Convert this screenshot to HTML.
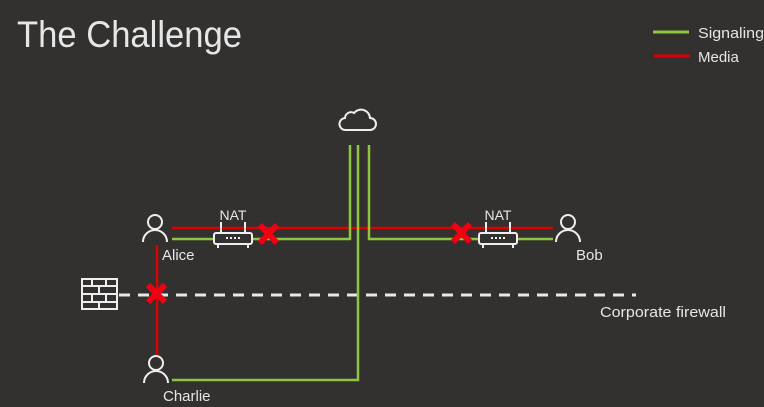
<!DOCTYPE html>
<html><head><style>
html,body{margin:0;padding:0;background:#323130;}
svg{display:block}
text{font-family:"Liberation Sans",sans-serif;fill:#e6e6e6}
</style></head><body>
<svg width="764" height="407" viewBox="0 0 764 407">
<rect width="764" height="407" fill="#323130"/>
<text x="17" y="47" font-size="37" textLength="225" lengthAdjust="spacingAndGlyphs">The Challenge</text>
<line x1="653" y1="32" x2="689" y2="32" stroke="#8dc63f" stroke-width="3"/>
<line x1="654" y1="56" x2="690" y2="56" stroke="#e00000" stroke-width="3"/>
<text x="698" y="38" font-size="15" fill="#ddd" textLength="66" lengthAdjust="spacingAndGlyphs">Signaling</text>
<text x="698" y="62" font-size="15" fill="#ddd">Media</text>
<!-- dashed firewall line -->
<line x1="100" y1="295" x2="636" y2="295" stroke="#e8e8e8" stroke-width="3" stroke-dasharray="11,8"/>
<text x="600" y="317" font-size="15" fill="#ddd" textLength="126" lengthAdjust="spacingAndGlyphs">Corporate firewall</text>
<!-- red lines -->
<line x1="172" y1="228" x2="553" y2="228" stroke="#e00000" stroke-width="2.5"/>
<line x1="157" y1="245" x2="157" y2="355" stroke="#e00000" stroke-width="2.5"/>
<!-- green lines -->
<g fill="none" stroke="#8dc63f" stroke-width="2.5">
<polyline points="172,239 350,239 350,145"/>
<polyline points="358,145 358,380 172,380"/>
<polyline points="369,145 369,239 553,239"/>
</g>
<!-- cloud -->
<path d="M346,130 h24 a6,6 0 0 0 0,-12 a9,9 0 0 0 -16,-5 a6,6 0 0 0 -9,5 a6,6 0 0 0 1,12 z" fill="#323130" stroke="#eee" stroke-width="2"/>
<!-- persons -->
<g fill="none" stroke="#eee" stroke-width="2">
<circle cx="155" cy="222" r="7"/><path d="M143,242 a12,12 0 0 1 24,0"/>
<circle cx="568" cy="222" r="7"/><path d="M556,242 a12,12 0 0 1 24,0"/>
<circle cx="156" cy="363" r="7"/><path d="M144,383 a12,12 0 0 1 24,0"/>
</g>
<text x="162" y="260" font-size="15" fill="#ddd">Alice</text>
<text x="576" y="260" font-size="15" fill="#ddd">Bob</text>
<text x="163" y="401" font-size="15" fill="#ddd">Charlie</text>
<!-- routers -->
<g>
<rect x="214" y="233" width="38" height="11" rx="2" fill="#323130" stroke="#eee" stroke-width="2"/>
<line x1="221" y1="222" x2="221" y2="233" stroke="#eee" stroke-width="2"/>
<line x1="245" y1="222" x2="245" y2="233" stroke="#eee" stroke-width="2"/>
<line x1="218" y1="244" x2="218" y2="248" stroke="#eee" stroke-width="2"/>
<line x1="248" y1="244" x2="248" y2="248" stroke="#eee" stroke-width="2"/>
<g fill="#eee"><rect x="226" y="237" width="2" height="2"/><rect x="230" y="237" width="2" height="2"/><rect x="234" y="237" width="2" height="2"/><rect x="238" y="237" width="2" height="2"/></g>
<text x="233" y="220" font-size="14" text-anchor="middle" fill="#eee">NAT</text>
</g>
<g>
<rect x="479" y="233" width="38" height="11" rx="2" fill="#323130" stroke="#eee" stroke-width="2"/>
<line x1="486" y1="222" x2="486" y2="233" stroke="#eee" stroke-width="2"/>
<line x1="510" y1="222" x2="510" y2="233" stroke="#eee" stroke-width="2"/>
<line x1="483" y1="244" x2="483" y2="248" stroke="#eee" stroke-width="2"/>
<line x1="513" y1="244" x2="513" y2="248" stroke="#eee" stroke-width="2"/>
<g fill="#eee"><rect x="491" y="237" width="2" height="2"/><rect x="495" y="237" width="2" height="2"/><rect x="499" y="237" width="2" height="2"/><rect x="503" y="237" width="2" height="2"/></g>
<text x="498" y="220" font-size="14" text-anchor="middle" fill="#eee">NAT</text>
</g>
<!-- firewall -->
<g fill="none" stroke="#eee" stroke-width="2">
<rect x="82" y="279" width="35" height="30" fill="#323130"/>
<line x1="82" y1="286" x2="117" y2="286"/><line x1="82" y1="294" x2="117" y2="294"/><line x1="82" y1="302" x2="117" y2="302"/>
<line x1="92" y1="279" x2="92" y2="286"/><line x1="106" y1="279" x2="106" y2="286"/>
<line x1="99" y1="286" x2="99" y2="294"/><line x1="92" y1="294" x2="92" y2="302"/><line x1="106" y1="294" x2="106" y2="302"/>
<line x1="99" y1="302" x2="99" y2="309"/>
</g>
<!-- X marks -->
<g stroke="#f00010" stroke-width="6" stroke-linecap="butt">
<path d="M260,225 L277,243 M277,225 L260,243"/>
<path d="M453,224 L470,242 M470,224 L453,242"/>
<path d="M148,285 L165,302 M165,285 L148,302"/>
</g>
</svg>
</body></html>
